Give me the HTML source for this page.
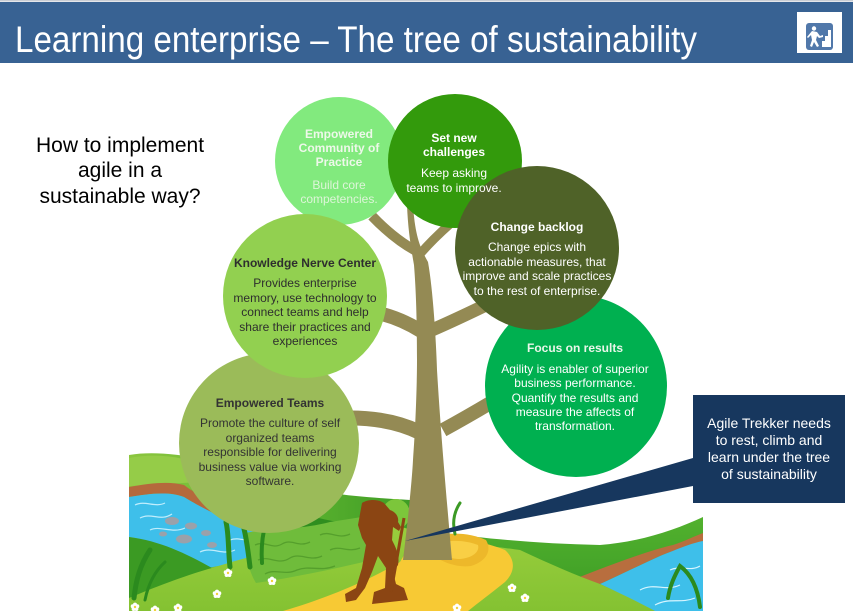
<!DOCTYPE html>
<html><head><meta charset="utf-8">
<style>
html,body{margin:0;padding:0;background:#fff;}
svg{display:block;}
text{font-family:"Liberation Sans",Arial,sans-serif;}
</style></head><body>
<svg width="853" height="614" viewBox="0 0 853 614" xmlns="http://www.w3.org/2000/svg">
<defs>
  <clipPath id="land"><rect x="129" y="430" width="575" height="181"/></clipPath>
  <linearGradient id="backhill" x1="0" y1="0" x2="1" y2="0">
    <stop offset="0" stop-color="#8CC63F"/><stop offset="0.6" stop-color="#5CB32F"/><stop offset="1" stop-color="#3E9C25"/>
  </linearGradient>
  <linearGradient id="lime" x1="0" y1="0" x2="0" y2="1">
    <stop offset="0" stop-color="#9BCF3E"/><stop offset="1" stop-color="#84C232"/>
  </linearGradient>
  <linearGradient id="band" x1="0" y1="0" x2="0" y2="1">
    <stop offset="0" stop-color="#52B12E"/><stop offset="1" stop-color="#3A9A24"/>
  </linearGradient>
  <g id="fl">
    <circle cx="0" cy="-2.4" r="2" fill="#fff"/>
    <circle cx="2.3" cy="-0.7" r="2" fill="#fff"/>
    <circle cx="1.4" cy="2" r="2" fill="#fff"/>
    <circle cx="-1.4" cy="2" r="2" fill="#fff"/>
    <circle cx="-2.3" cy="-0.7" r="2" fill="#fff"/>
    <circle cx="0" cy="0" r="1.2" fill="#F2D23A"/>
  </g>
</defs>

<rect width="853" height="614" fill="#fff"/>
<!-- Header -->
<rect x="0" y="0" width="853" height="1.5" fill="#c9cdd4"/>
<rect x="0" y="2" width="853" height="61" fill="#386293"/>
<text x="15" y="52" font-size="37" fill="#fff" textLength="682" lengthAdjust="spacingAndGlyphs">Learning enterprise – The tree of sustainability</text>
<!-- Icon -->
<rect x="797" y="12" width="45" height="41" fill="#fff"/>
<rect x="806" y="23" width="27" height="27" rx="3" fill="#5178AA"/>
<circle cx="814" cy="28.5" r="2.2" fill="#fff"/>
<path d="M812 31 L817 32 L820 36 L823 35 L823 37 L819 38 L817 36 L816 40 L819 46 L817 47 L814 42 L812 47 L810 46 L812 40 L811 35 L808 38 L807 37 Z" fill="#fff"/>
<path d="M822 47 L822 41 L825 41 L825 36 L828 36 L828 30 L831 30 L831 47 Z" fill="#fff"/>

<!-- Question -->
<g font-size="21" fill="#000" text-anchor="middle">
  <text x="120" y="152">How to implement</text>
  <text x="120" y="177">agile in a</text>
  <text x="120" y="203">sustainable way?</text>
</g>

<!-- Landscape -->
<g clip-path="url(#land)">
  <path d="M129 455 C170 448 230 463 280 482 C320 494 360 497 410 500 L410 570 L129 570 Z" fill="url(#backhill)"/>
  <path d="M129 458 C160 452 190 458 215 470 L200 482 L129 486 Z" fill="#95CC48"/>
  <ellipse cx="396" cy="514" rx="14" ry="15" fill="#7CC63B"/>
  <path d="M282 508 C300 512 320 520 340 522 L340 548 L290 548 Z" fill="#2F8E1F"/>
  <!-- left brown bank & river -->
  <path d="M129 487 C150 483 170 481 184 485 C200 497 240 520 300 540 L300 547 C245 531 205 510 184 497 C168 491 148 494 129 497 Z" fill="#B5693C"/>
  <path d="M129 497 C148 494 168 491 184 497 C205 510 245 530 300 547 L288 552 C255 558 228 564 208 568 C185 556 160 541 129 537 Z" fill="#3EBFEA"/>
  <g fill="none" stroke="#CFF3FF" stroke-width="1.2" opacity="0.9">
    <path d="M135 505 C145 500 155 508 165 503"/>
    <path d="M140 518 C152 512 160 522 172 514"/>
    <path d="M150 530 C160 525 172 534 185 528"/>
    <path d="M200 552 C212 546 222 556 235 550"/>
    <path d="M230 540 C240 536 250 544 262 540"/>
  </g>
  <g fill="#9AA1AA">
    <ellipse cx="172" cy="521" rx="7" ry="4"/>
    <ellipse cx="191" cy="526" rx="6" ry="3.5"/>
    <ellipse cx="206" cy="533" rx="5" ry="3"/>
    <ellipse cx="184" cy="539" rx="8" ry="4.5"/>
    <ellipse cx="163" cy="534" rx="4" ry="2.5"/>
    <ellipse cx="212" cy="545" rx="5" ry="3"/>
  </g>
  <!-- dark lower-left hill -->
  <path d="M129 537 C160 541 185 553 212 568 L129 602 Z" fill="#3B9A23"/>
  <!-- right band -->
  <path d="M445 533 C480 538 540 544 600 545 C640 542 675 530 703 517 L703 611 L445 611 Z" fill="url(#band)"/>
  <path d="M577 578 C610 565 650 550 673 545 C685 541 695 536 703 533 L703 541 C690 545 675 550 660 556 C640 565 620 575 600 584 Z" fill="#B86E3E"/>
  <path d="M600 584 C620 575 640 565 660 556 C680 548 692 543 703 541 L703 611 L650 611 C635 602 618 592 600 584 Z" fill="#3EBFEA"/>
  <g fill="none" stroke="#D6F5FF" stroke-width="1.2">
    <path d="M640 590 C655 582 665 592 680 585"/>
    <path d="M655 605 C670 597 680 604 695 598"/>
    <path d="M670 570 C680 565 690 572 700 566"/>
  </g>
  <!-- lime front field -->
  <path d="M129 598 C160 585 190 574 212 568 C240 559 270 551 300 545 C330 537 350 528 375 520 L450 540 C480 545 505 548 520 550 C550 564 575 575 600 584 C620 593 640 603 655 611 L129 611 Z" fill="url(#lime)"/>
  <!-- textured patch -->
  <path d="M245 533 C270 528 300 530 330 522 L368 516 L372 560 C330 570 290 578 256 583 C248 570 245 552 245 533 Z" fill="#6FBC3B"/>
  <g fill="none" stroke="#559F2C" stroke-width="1.3">
    <path d="M255 545 C265 540 272 550 282 544 C292 538 298 548 310 542"/>
    <path d="M258 560 C270 555 278 566 290 558 C300 552 310 562 322 556"/>
    <path d="M265 574 C275 568 285 576 297 570 C310 565 320 572 335 566"/>
    <path d="M320 535 C330 530 338 540 350 534"/>
    <path d="M330 550 C340 545 348 553 360 548"/>
  </g>
  <!-- yellow path -->
  <path d="M283 611 C320 600 360 585 400 562 L410 545 L450 538 C470 539 490 544 505 550 C516 560 515 572 505 582 C490 594 478 603 468 611 Z" fill="#F7C934"/>
  <path d="M428 540 C444 531 468 532 486 540 C492 550 487 561 471 566 C455 568 440 561 430 553 Z" fill="#EDB82A"/>
  <path d="M436 545 C448 539 465 540 478 545 C480 552 472 558 460 559 C448 559 440 554 436 545 Z" fill="#F9CF45"/>
  <!-- grass blades -->
  <g fill="none" stroke="#2B8A1E" stroke-linecap="round">
    <path d="M230 567 C228 550 229 535 226 522" stroke-width="5"/>
    <path d="M250 567 C248 550 246 535 243 525" stroke-width="5"/>
    <path d="M262 563 C261 550 262 540 264 530" stroke-width="4"/>
    <path d="M134 598 C136 580 140 565 150 550" stroke-width="5"/>
    <path d="M145 600 C148 585 154 572 165 562" stroke-width="3"/>
    <path d="M455 534 C452 522 454 512 460 503" stroke-width="3" stroke="#3C9A25"/>
    <path d="M700 607 C698 590 692 575 680 566 C675 575 670 585 668 598" stroke-width="4"/>
  </g>
  <!-- flowers -->
  <use href="#fl" x="228" y="573"/>
  <use href="#fl" x="272" y="581"/>
  <use href="#fl" x="217" y="594"/>
  <use href="#fl" x="135" y="607"/>
  <use href="#fl" x="155" y="610"/>
  <use href="#fl" x="178" y="608"/>
  <use href="#fl" x="512" y="588"/>
  <use href="#fl" x="525" y="598"/>
  <use href="#fl" x="457" y="608"/>
</g>

<!-- Tree -->
<g fill="none" stroke="#948A54" stroke-linecap="butt">
  <path d="M372 216 Q395 240 418 252" stroke-width="10"/>
  <path d="M420 254 Q432 240 450 224" stroke-width="9"/>
  <path d="M378 313 Q400 318 421 331" stroke-width="14"/>
  <path d="M432 330 Q455 320 488 304" stroke-width="13"/>
  <path d="M350 418 Q390 418 419 432" stroke-width="15"/>
  <path d="M443 430 Q465 418 492 402" stroke-width="14"/>
</g>
<path d="M407 205 L413 205 C415 235 420 248 428 262 C433 290 436 340 437 370 C440 420 444 470 452 560 L403 560 C408 520 412 480 413 460 C416 420 417 380 417 360 C417 320 416 290 414 265 C411 248 408 230 407 205 Z" fill="#948A54"/>

<!-- Circles -->
<circle cx="339" cy="161" r="64" fill="#82EA7E"/>
<circle cx="455" cy="161" r="67" fill="#339A0C"/>
<circle cx="576" cy="386" r="91" fill="#00B050"/>
<circle cx="537" cy="248" r="82" fill="#4F6228"/>
<circle cx="269" cy="443" r="90" fill="#9BBB59"/>
<circle cx="305" cy="296" r="82" fill="#92D050"/>

<!-- Circle texts -->
<g font-size="12" text-anchor="middle">
  <g fill="#EEF8EA" font-weight="bold">
    <text x="339" y="138">Empowered</text>
    <text x="339" y="152">Community  of</text>
    <text x="339" y="166">Practice</text>
  </g>
  <g fill="#DDF5D8">
    <text x="339" y="189">Build core</text>
    <text x="339" y="203">competencies.</text>
  </g>

  <g fill="#fff">
    <text x="454" y="142" font-weight="bold">Set new</text>
    <text x="454" y="156" font-weight="bold">challenges</text>
    <text x="454" y="177">Keep asking</text>
    <text x="454" y="192">teams to improve.</text>
  </g>

  <g fill="#fff">
    <text x="537" y="231" font-weight="bold">Change backlog</text>
    <text x="537" y="251">Change epics with</text>
    <text x="537" y="266">actionable measures, that</text>
    <text x="537" y="280">improve and scale practices</text>
    <text x="537" y="295">to the rest of enterprise.</text>
  </g>

  <g fill="#2E2E2E">
    <text x="305" y="267" font-weight="bold">Knowledge Nerve Center</text>
    <text x="305" y="287">Provides enterprise</text>
    <text x="305" y="302">memory, use technology to</text>
    <text x="305" y="316">connect teams and help</text>
    <text x="305" y="331">share their practices and</text>
    <text x="305" y="345">experiences</text>
  </g>

  <g fill="#333">
    <text x="270" y="407" font-weight="bold">Empowered Teams</text>
    <text x="270" y="427">Promote the culture of self</text>
    <text x="270" y="442">organized teams</text>
    <text x="270" y="456">responsible for delivering</text>
    <text x="270" y="471">business value via working</text>
    <text x="270" y="485">software.</text>
  </g>

  <g fill="#fff">
    <text x="575" y="352" font-weight="bold" fill="#EAF6EA">Focus on results</text>
    <text x="575" y="373">Agility is enabler of superior</text>
    <text x="575" y="387">business performance.</text>
    <text x="575" y="402">Quantify the results and</text>
    <text x="575" y="416">measure the affects of</text>
    <text x="575" y="430">transformation.</text>
  </g>
</g>

<!-- Hiker -->
<path d="M362 503 C368 499 378 499 384 503 L390 510 C396 512 399 517 398 522 L401 527 L399 531 L393 527 L392 540 C396 548 400 556 398 565 L393 572 L396 584 L404 588 L408 600 L372 604 L374 592 L385 588 L386 568 L378 556 L372 572 L365 588 L356 600 L346 602 L345 594 L356 588 L362 568 L366 545 L362 538 L358 525 Z" fill="#8B4513"/>
<line x1="404" y1="518" x2="391" y2="592" stroke="#8B4513" stroke-width="3"/>

<!-- Callout -->
<polygon points="693,458 693,486 405,541" fill="#17375E"/>
<rect x="693" y="395" width="152" height="108" fill="#17375E"/>
<g font-size="14" fill="#fff" text-anchor="middle">
  <text x="769" y="428">Agile Trekker needs</text>
  <text x="769" y="445">to rest, climb and</text>
  <text x="769" y="462">learn under the tree</text>
  <text x="769" y="479">of sustainability</text>
</g>
</svg>
</body></html>
